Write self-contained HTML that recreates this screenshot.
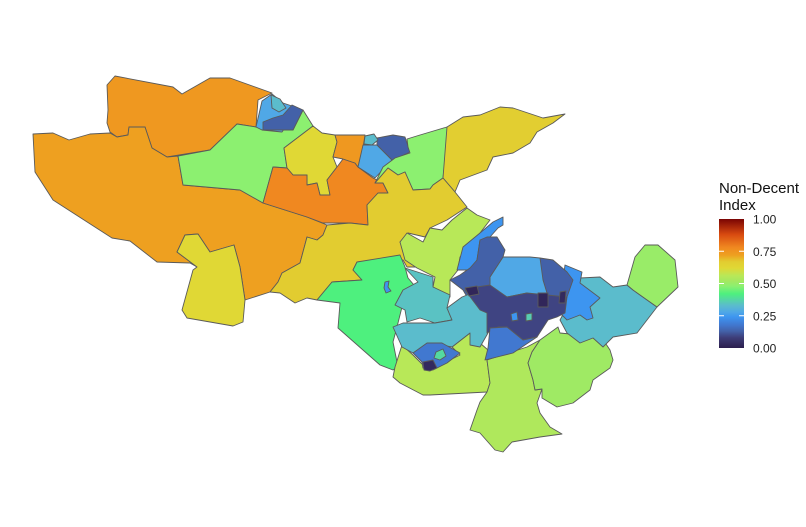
<!DOCTYPE html>
<html><head><meta charset="utf-8">
<style>
html,body{margin:0;padding:0;background:#fff;}
svg{display:block;font-family:"Liberation Sans",Arial,sans-serif;}
</style></head>
<body>
<svg id="chart" width="806" height="527" viewBox="0 0 806 527">
<g id="map"></g>
<g id="legend">
<text x="719" y="193" font-size="15" fill="#111">Non-Decent</text>
<text x="719" y="210" font-size="15" fill="#111">Index</text>
<defs><linearGradient id="lg" x1="0" y1="1" x2="0" y2="0"></linearGradient></defs>
<rect x="719" y="219" width="25" height="129" fill="url(#lg)"/>
<g id="ticks"></g>
</g>
</svg>
<script>
// colour scale stops (value -> colour)
const stopVals = [0.00,0.08,0.13,0.18,0.24,0.28,0.33,0.42,0.48,0.52,0.56,0.62,0.67,0.72,0.78,0.88,1.00];
const stopCols = ["#2c1e4e","#3e3d78","#4361a8","#4178d0","#3d95f0","#50a8e6","#5bbccc","#4ef07e","#8cf070","#a5e860","#b8e858","#e0d835","#e2cc30","#eea020","#f08820","#d84a10","#7a0403"];
const tickValues = [0,0.25,0.5,0.75,1];
const tickLabels = ["0.00","0.25","0.50","0.75","1.00"];

// region index values (drawn in order; later regions overlay earlier)
const regionNames = ["nw-orange","west-orange","sw-yellow","mid-green","north-lightblue","north-darkblue","north-teal","mid-yellow","central-orange","north-orange","ne-lightblue","ne-darkblue","ne-teal","ne-green","ne-yellow","central-yellow","central-lime","west-green","west-speck","west-teal","sw-lime","south-lime","se-green","east-teal","far-east-green","east-blue","core-ne-dark","core-north-lightblue","core-north-blue","core-north-dark","lower-teal","core","core-south-blue","ring","ring-dark","ring-teal","core-cell-a","core-cell-b","core-cell-c","core-cell-d","core-cell-e"];
const regionValues = [0.74,0.72,0.62,0.48,0.28,0.13,0.33,0.62,0.78,0.74,0.28,0.13,0.33,0.48,0.66,0.67,0.56,0.42,0.24,0.34,0.56,0.54,0.51,0.33,0.50,0.24,0.13,0.28,0.24,0.13,0.33,0.09,0.18,0.18,0.03,0.38,0.02,0.02,0.03,0.24,0.36];
// geometry (map outlines)
const regionShapes = [
"115,76 173,87 182,94 210,78 230,78 272,93 258,100 256,127 237,124 210,150 167,157 152,148 145,127 129,127 128,135 117,137 110,132 107,123 108,110 107,85",
"33,134 53,133 69,140 90,134 110,133 117,137 128,135 129,127 145,127 152,148 167,157 178,156 183,185 240,190 263,203 307,217 327,225 323,235 317,240 307,237 300,263 282,273 278,282 270,292 245,300 240,267 234,245 210,252 198,234 185,235 177,252 197,267 190,263 157,262 130,241 112,238 53,200 35,172",
"185,235 198,234 210,252 234,245 240,267 245,300 243,322 233,326 187,318 182,310 193,270 197,267 177,252",
"178,156 210,150 237,124 256,127 293,130 303,110 313,126 284,148 287,168 273,167 263,203 240,190 183,185",
"262,101 272,94 283,103 295,107 287,125 282,132 262,130 256,127",
"263,122 273,118 283,115 292,105 303,110 293,130 282,130 263,130",
"271,95 280,99 286,108 279,112 272,108",
"313,126 322,133 335,135 337,142 333,157 337,167 327,180 330,195 320,195 317,183 307,185 307,175 293,175 287,168 284,148",
"273,167 287,168 293,175 307,175 307,185 317,183 320,195 330,195 327,180 337,167 343,159 355,163 358,167 373,178 383,183 388,193 378,193 367,205 368,225 350,223 323,223 307,217 263,203",
"335,135 365,135 363,148 358,167 355,163 343,159 333,157 337,142",
"363,145 377,145 392,160 375,178 358,167",
"377,138 393,135 405,137 410,152 397,158 392,160 377,145",
"365,136 374,134 378,140 372,145 364,144",
"407,139 420,135 447,127 447,143 443,178 433,185 430,189 413,190 405,172 398,175 388,168 375,183 383,167 395,158 410,153 408,147",
"447,127 463,117 480,115 500,107 513,108 543,118 565,114 553,123 537,132 530,143 513,153 493,157 487,170 460,180 455,192 443,178",
"388,168 398,175 405,172 413,190 430,189 433,185 443,178 455,192 467,207 447,220 430,228 425,237 408,233 400,242 417,267 407,267 403,260 357,262 353,270 362,280 332,282 317,300 307,298 295,303 280,293 270,292 278,282 282,273 300,263 307,237 317,240 323,235 327,225 350,223 368,225 367,205 378,193 388,193 383,183 375,183",
"400,242 407,233 423,242 430,228 442,230 452,220 467,208 477,215 490,220 480,233 473,243 460,257 458,270 450,280 450,297 433,287 435,277 417,268 405,260",
"357,262 400,255 405,267 408,278 420,292 410,305 403,303 397,327 393,342 398,367 393,370 380,365 338,328 340,303 317,300 332,282 362,280 353,270",
"385,282 389,281 388,287 391,291 386,293 384,288",
"405,268 433,277 433,287 450,295 447,308 452,320 435,323 420,318 407,322 405,310 395,305 403,290 418,282",
"402,345 413,355 423,365 430,370 460,355 452,347 470,333 472,345 480,343 488,350 487,360 490,383 487,392 430,395 423,395 400,383 393,377 395,367",
"487,360 527,347 540,340 532,352 528,363 533,380 535,390 542,389 537,403 540,413 550,427 562,434 540,437 512,442 503,452 495,450 480,433 470,430 477,410 480,402 487,392 490,383",
"532,352 540,340 558,327 560,333 580,335 593,337 602,338 610,350 613,360 610,368 593,380 590,390 573,403 557,407 542,398 542,389 535,390 533,380 528,363",
"580,278 600,277 613,287 627,285 633,290 657,307 637,333 613,337 603,347 593,338 580,343 567,333 560,320 567,307 573,295",
"627,285 635,257 645,245 658,245 675,260 678,287 657,307 633,290",
"565,265 582,272 580,283 600,298 590,307 593,318 587,320 580,315 567,320 560,313 567,297 563,280",
"540,258 553,260 567,272 573,280 567,297 560,313 550,317 547,297 543,280 538,265",
"490,277 503,257 530,257 540,258 543,280 547,293 537,297 527,293 507,297 490,287",
"457,270 463,247 480,233 493,222 503,217 503,225 498,228 490,237 480,240 477,260 470,270",
"450,280 460,275 470,268 477,260 480,240 487,237 497,237 505,250 503,257 490,277 490,287 483,293 473,307 463,290",
"393,327 403,323 435,323 452,320 447,308 462,297 480,290 487,313 493,323 488,333 480,347 470,345 470,333 452,347 430,343 413,353 402,347",
"465,290 477,287 490,285 507,297 527,293 547,295 567,297 565,313 557,317 548,320 537,337 523,340 507,327 498,327 487,333 487,313 480,310",
"490,328 507,327 523,340 537,337 513,353 493,358 485,360 488,348",
"413,353 427,343 442,343 460,353 447,363 433,370 423,368 422,362",
"423,362 433,360 437,368 430,371 424,370",
"436,352 443,349 446,356 440,360 434,358",
"465,288 477,286 479,294 469,296",
"538,293 548,293 548,307 538,307",
"560,292 566,291 565,303 559,303",
"511,314 517,312 518,320 512,321",
"526,314 532,313 532,320 526,321"
];

function hex(c){return [parseInt(c.slice(1,3),16),parseInt(c.slice(3,5),16),parseInt(c.slice(5,7),16)];}
function colorScale(v){
  v=Math.max(0,Math.min(1,v));
  for(let i=0;i<stopVals.length-1;i++){
    if(v<=stopVals[i+1]){
      const t=(v-stopVals[i])/(stopVals[i+1]-stopVals[i]);
      const a=hex(stopCols[i]),b=hex(stopCols[i+1]);
      return "rgb("+a.map((x,k)=>Math.round(x+(b[k]-x)*t)).join(",")+")";
    }
  }
  return stopCols[stopCols.length-1];
}
const NS="http://www.w3.org/2000/svg";
const map=document.getElementById("map");
regionShapes.forEach((pts,i)=>{
  const p=document.createElementNS(NS,"polygon");
  p.setAttribute("points",pts);
  p.setAttribute("fill",colorScale(regionValues[i]));
  p.setAttribute("stroke","#5a5a5a");
  p.setAttribute("stroke-width","0.9");
  p.setAttribute("stroke-linejoin","round");
  
  
  map.appendChild(p);
});
// legend gradient
const lg=document.getElementById("lg");
stopVals.forEach((v,i)=>{
  const s=document.createElementNS(NS,"stop");
  s.setAttribute("offset",v);
  s.setAttribute("stop-color",stopCols[i]);
  lg.appendChild(s);
});
const barY=219,barH=129;
function legendY(v){return barY+barH*(1-v);}
const ticks=document.getElementById("ticks");
tickValues.forEach((v,i)=>{
  const y=legendY(v);
  if(v>0&&v<1){
    [[719,724],[739,744]].forEach(([x1,x2])=>{
      const l=document.createElementNS(NS,"line");
      l.setAttribute("x1",x1);l.setAttribute("x2",x2);
      l.setAttribute("y1",y);l.setAttribute("y2",y);
      l.setAttribute("stroke","#fff");l.setAttribute("stroke-width","1");
      
      
      ticks.appendChild(l);
    });
  }
  const t=document.createElementNS(NS,"text");
  t.setAttribute("x",753);t.setAttribute("y",y+4.5);
  t.setAttribute("font-size","12");t.setAttribute("fill","#222");
  t.textContent=tickLabels[i];
  
  
  ticks.appendChild(t);
});
</script>
</body></html>
